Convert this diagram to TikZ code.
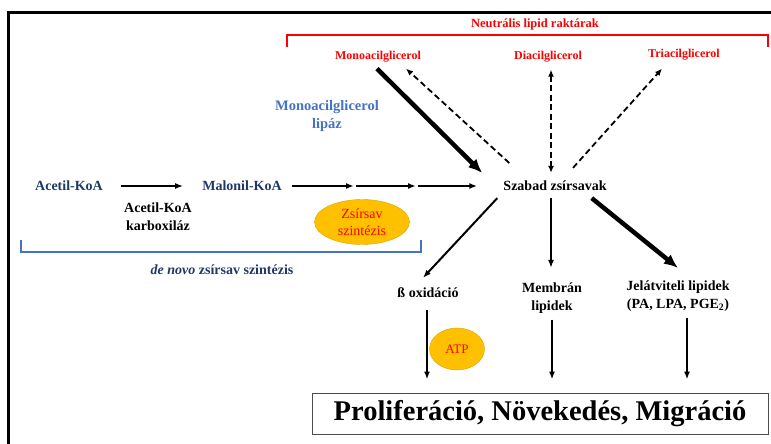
\documentclass[tikz,border=0pt]{standalone}
\usepackage{fontspec}
\setmainfont{Liberation Serif}
\usepackage{xcolor}
\usetikzlibrary{arrows.meta,shapes.geometric,calc}
\definecolor{lipidred}{HTML}{FF0000}
\definecolor{enzblue}{HTML}{4472C4}
\definecolor{navy}{HTML}{203864}
\definecolor{sunorange}{HTML}{FFC000}
\tikzset{
  lbl/.style={font=\bfseries\fontsize{14}{18}\selectfont, align=center, inner sep=2pt},
  store/.style={font=\bfseries\fontsize{12}{14}\selectfont, text=lipidred, inner sep=2pt},
  blob/.style={ellipse, fill=sunorange, draw=sunorange!85!black, text=lipidred, align=center,
               inner sep=0pt, font=\fontsize{14}{17}\selectfont},
  flow/.style={-{Latex[length=8pt,width=6pt]}, line width=2pt},
  bigflow/.style={-{Latex[length=14pt,width=12pt]}, line width=4.5pt},
  storeflow/.style={-{Latex[length=7pt,width=6pt]}, line width=1.8pt, dash pattern=on 6pt off 3.5pt},
  bracket/.style={line width=2pt}
}
\begin{document}
\begin{tikzpicture}[x=1pt,y=-1pt]
\useasboundingbox (0,0) rectangle (771,444);
\draw[line width=3pt] (8,444) -- (8,13) -- (771,13);

\node[store, font=\bfseries\fontsize{12.5}{14}\selectfont] (neutral) at (535,24) {Neutrális lipid raktárak};
\draw[bracket, lipidred] (287,47) -- (287,35) -- (768,35) -- (768,47);
\node[store] (mono) at (378,57) {Monoacilglicerol};
\node[store] (di) at (548,57) {Diacilglicerol};
\node[store] (tri) at (684,55) {Triacilglicerol};
\node[lbl, text=enzblue, font=\bfseries\fontsize{14.5}{18}\selectfont] (lipaz) at (327,116) {Monoacilglicerol\\lipáz};

\node[lbl, text=navy] (acetil) at (69,186) {Acetil-KoA};
\node[lbl, text=navy] (malonil) at (242,186) {Malonil-KoA};
\node[lbl] (szabad) at (555,186) {Szabad zsírsavak};
\node[lbl] (karbox) at (158,217) {Acetil-KoA\\karboxiláz};
\node[blob, minimum width=95pt, minimum height=45pt] (zsir) at (362,222) {Zsírsav\\szintézis};
\draw[bracket, enzblue] (21,240) -- (21,252) -- (421,252) -- (421,240);
\node[lbl, text=navy] (denovo) at (222,270) {\textit{de novo} zsírsav szintézis};

\node[lbl] (boxid) at (428,293) {ß oxidáció};
\node[lbl] (membran) at (552,298) {Membrán\\lipidek};
\node[lbl] (jelat) at (678,296) {Jelátviteli lipidek\\(PA, LPA, PGE\textsubscript{2})};
\node[blob, minimum width=55pt, minimum height=42pt, font=\fontsize{13}{15}\selectfont] (atp) at (457,349) {ATP};
\node[draw=gray!60!black, line width=1pt, minimum width=456pt, minimum height=41pt,
      font=\bfseries\fontsize{28.5}{34}\selectfont] (prolif) at (540,413.5) {Proliferáció, Növekedés, Migráció};

% de novo szintezis
\coordinate (fa1) at (354,186);
\coordinate (fa2) at (416,186);
\draw[flow, shorten <=16pt, shorten >=17pt] (acetil.east) -- (malonil.west);
\draw[flow, shorten <=8pt] (malonil.east) -- (fa1);
\draw[flow, shorten <=1.5pt] (fa1) -- (fa2);
\draw[flow, shorten <=2pt, shorten >=24pt] (fa2) -- (szabad.west);

% raktarak
\draw[bigflow] ($(mono.south)+(-1,4)$) -- ($(szabad.west)+(-19,-13)$);
\draw[storeflow] ($(szabad.west)+(8,-23)$) -- ($(mono.south east)+(-17,4)$);
\draw[storeflow, {Latex[length=7pt,width=6pt]}-{Latex[length=7pt,width=6pt]}] ($(di.south)+(3,5)$) -- ($(szabad.north)+(-4,-6)$);
\draw[storeflow] ($(szabad.north)+(18,-11)$) -- ($(tri.south)+(-22,6)$);

% felhasznalas
\draw[flow] ($(szabad.south west)+(-4,5)$) -- ($(boxid.north)+(-5,-8)$);
\draw[flow] ($(szabad.south)+(-4,5)$) -- ($(membran.north)+(-1,-12.5)$);
\draw[bigflow] ($(szabad.south east)+(-17,5)$) -- ($(jelat.north)+(0,-10.5)$);
\draw[flow] ($(boxid.south)+(-1,10)$) -- ($(boxid.south |- prolif.north)+(-1,-13)$);
\draw[flow] ($(membran.south)+(0,4)$) -- ($(membran.south |- prolif.north)+(0,-13)$);
\draw[flow] ($(jelat.south)+(9,4)$) -- ($(jelat.south |- prolif.north)+(9,-13)$);
\end{tikzpicture}
\end{document}
